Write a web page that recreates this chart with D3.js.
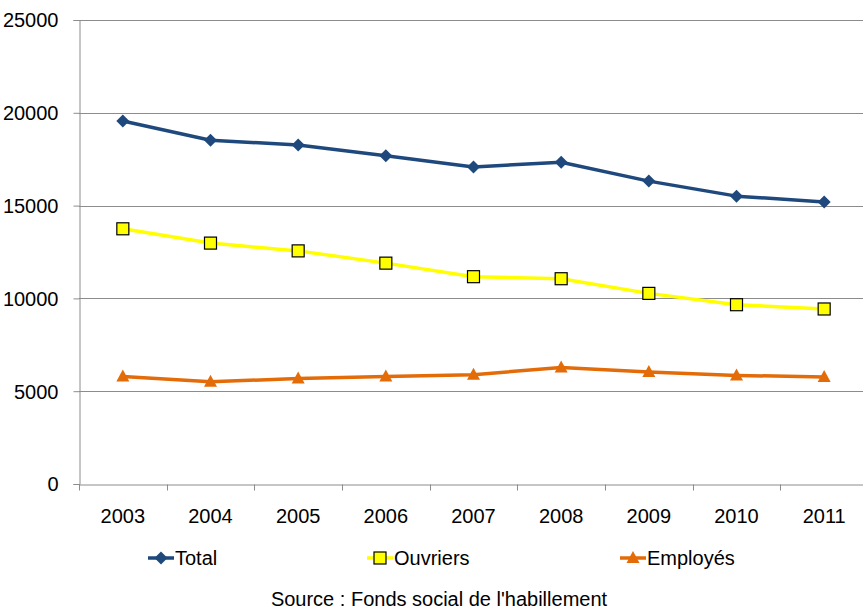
<!DOCTYPE html>
<html><head><meta charset="utf-8">
<script src="https://cdn.jsdelivr.net/npm/d3@7"></script>
<style>body{margin:0;background:#fff}svg{display:block}text{font-family:"Liberation Sans Narrow","Arial Narrow","Liberation Sans",sans-serif;fill:#000}</style>
</head><body>
<script>
const years = ["2003","2004","2005","2006","2007","2008","2009","2010","2011"];
const total = [19560,18520,18270,17680,17080,17340,16320,15510,15200];
const ouvriers = [13750,12980,12560,11900,11170,11060,10270,9660,9430];
const employes = [5790,5510,5680,5790,5890,6280,6030,5850,5770];
const yTicks = [0,5000,10000,15000,20000,25000];
const seriesNames = ["Total","Ouvriers","Employés"];
const source = "Source : Fonds social de l'habillement";

const W=863,H=610;
const m={left:79,top:20,right:-5,bottom:126};
const svg=d3.select("body").append("svg").attr("width",W).attr("height",H);
const x=d3.scaleBand().domain(years).range([m.left,W-m.right]).paddingInner(0).paddingOuter(0);
const y=d3.scaleLinear().domain([0,25000]).range([H-m.bottom,m.top]);

// gridlines
svg.append("g").selectAll("line").data(yTicks.filter(d=>d>0)).join("line")
 .attr("x1",m.left).attr("x2",W).attr("y1",d=>Math.round(y(d))+0.5).attr("y2",d=>Math.round(y(d))+0.5)
 .attr("stroke","#8c8c8c").attr("stroke-width",1);

const gy=svg.append("g").attr("transform",`translate(${m.left+0.5},0)`)
 .call(d3.axisLeft(y).tickValues(yTicks).tickSize(6).tickPadding(15).tickFormat(d3.format("d")));
gy.select(".domain").attr("stroke","#8c8c8c");
gy.selectAll(".tick line").attr("stroke","#8c8c8c");
gy.selectAll("text").style("font-size","20px").attr("dy","0.34em");

const gx=svg.append("g").attr("transform",`translate(0,${Math.round(y(0))+0.5})`)
 .call(d3.axisBottom(x).tickSize(0).tickPadding(24));
gx.select(".domain").attr("stroke","#8c8c8c");
gx.selectAll("text").style("font-size","20px");
// boundary ticks
gx.append("g").selectAll("line").data(years.concat(["end"])).join("line")
 .attr("x1",(d,i)=>Math.round(m.left+i*x.bandwidth())+0.5).attr("x2",(d,i)=>Math.round(m.left+i*x.bandwidth())+0.5)
 .attr("y1",0).attr("y2",6).attr("stroke","#8c8c8c");

const cx=d=>x(d)+x.bandwidth()/2;
const line=d3.line().x((d,i)=>cx(years[i])).y(d=>y(d));

const series=[
 {name:seriesNames[0],vals:total,color:"#1f497d",shape:"diamond"},
 {name:seriesNames[1],vals:ouvriers,color:"#ffff00",shape:"square"},
 {name:seriesNames[2],vals:employes,color:"#e36c09",shape:"triangle"}
];
function marker(g,shape,color,px,py){
 if(shape==="diamond"){
  g.append("path").attr("d",`M${px},${py-6.5}L${px+6.5},${py}L${px},${py+6.5}L${px-6.5},${py}Z`).attr("fill",color);
 }else if(shape==="square"){
  g.append("rect").attr("x",px-6).attr("y",py-6).attr("width",12).attr("height",12).attr("fill",color).attr("stroke","#000").attr("stroke-width",1.2);
 }else{
  g.append("path").attr("d",`M${px},${py-7}L${px+6.5},${py+5}L${px-6.5},${py+5}Z`).attr("fill",color);
 }
}
series.forEach(s=>{
 svg.append("path").datum(s.vals).attr("d",line).attr("fill","none").attr("stroke",s.color).attr("stroke-width",3.5).attr("stroke-linejoin","round");
 const g=svg.append("g");
 s.vals.forEach((v,i)=>marker(g,s.shape,s.color,cx(years[i]),y(v)));
});

// legend
const legX=[148,367,620];
series.forEach((s,i)=>{
 const g=svg.append("g");
 const ly=558;
 g.append("line").attr("x1",legX[i]).attr("x2",legX[i]+26).attr("y1",ly).attr("y2",ly).attr("stroke",s.color).attr("stroke-width",3.5);
 marker(g,s.shape,s.color,legX[i]+13,ly);
 g.append("text").attr("x",legX[i]+27).attr("y",ly).attr("dy","0.35em").style("font-size","20px").text(s.name);
});
svg.append("text").attr("x",439).attr("y",599).attr("dy","0.35em").attr("text-anchor","middle").style("font-size","20px").text(source);
</script>
</body></html>
